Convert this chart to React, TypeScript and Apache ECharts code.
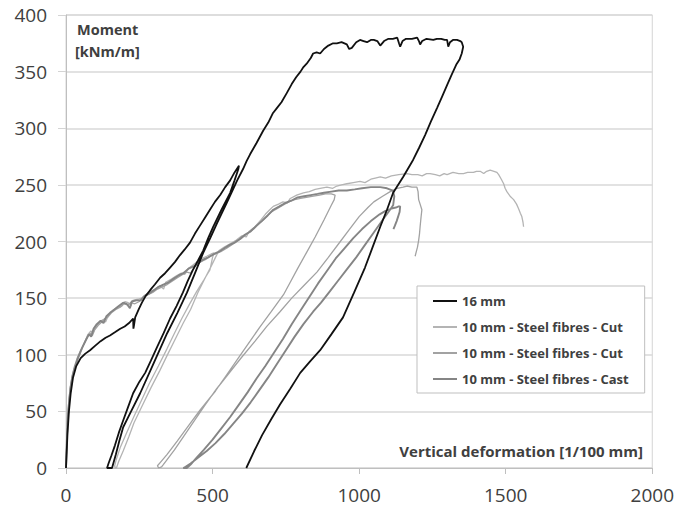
import React, { useEffect, useRef } from "react";
import * as echarts from "echarts";

// ---------- Data ----------
const seriesNames = [
  "16 mm",
  "10 mm - Steel fibres - Cut",
  "10 mm - Steel fibres - Cut ",
  "10 mm - Steel fibres - Cast",
];

const xTicks = [0, 500, 1000, 1500, 2000];
const yTicks = [0, 50, 100, 150, 200, 250, 300, 350, 400];

// 16 mm
const bEnvelope1 = [
  [0, 0], [5, 30], [10, 50], [16, 66], [24, 80], [35, 90], [50, 97], [66, 101], [82, 104],
  [100, 108], [118, 112], [135, 115], [150, 117], [168, 120], [185, 123], [200, 125], [215, 128],
  [229, 132], [230, 123], [232, 126], [236, 133], [248, 140], [259, 146], [272, 152], [287, 157],
  [303, 162], [321, 168], [338, 172], [355, 177], [372, 182], [389, 188], [405, 193], [423, 199],
  [440, 207], [457, 214], [474, 221], [491, 228], [508, 235], [526, 241], [543, 248], [560, 254],
  [575, 261], [590, 267],
];
const bUnload1 = [
  [588, 264], [575, 254], [560, 243], [530, 228], [502, 213], [485, 203], [468, 192], [450, 183],
  [433, 175], [415, 165], [399, 155], [377, 143], [355, 132], [333, 119], [311, 107], [290, 95],
  [270, 84], [250, 76], [229, 66], [212, 54], [195, 42], [180, 31], [167, 20], [155, 11],
  [145, 4], [140, 0],
];
const bReload1 = [
  [157, 0], [170, 12], [182, 24], [195, 36], [222, 50], [253, 66], [300, 93], [345, 119],
  [380, 137], [413, 155], [440, 172], [468, 190], [492, 203], [515, 216], [550, 235], [584, 254],
  [604, 264], [616, 271], [628, 277],
];
const bEnvelope2 = [
  [650, 287], [673, 298], [690, 305], [705, 313], [720, 318], [735, 323], [753, 331], [770, 339],
  [785, 345], [800, 350], [810, 354], [821, 357], [835, 362], [843, 366], [855, 367], [867, 366],
  [880, 370], [895, 373], [911, 375], [924, 375], [940, 376], [958, 374], [966, 370], [975, 371],
  [990, 376], [1003, 378], [1015, 377], [1027, 376], [1040, 378], [1050, 378], [1062, 377],
  [1072, 373], [1085, 377], [1100, 379], [1115, 379], [1130, 380], [1136, 375], [1140, 372],
  [1148, 377], [1160, 379], [1180, 379], [1198, 380], [1204, 377], [1208, 374], [1215, 377],
  [1230, 379], [1253, 378], [1265, 379], [1280, 379], [1292, 378], [1300, 378], [1304, 372],
  [1310, 376], [1320, 378], [1334, 378], [1345, 377], [1350, 376], [1355, 372],
];
const bUnload2 = [
  [1350, 366], [1343, 361], [1331, 356], [1315, 347], [1300, 338], [1283, 328], [1266, 318],
  [1245, 306], [1225, 294], [1205, 283], [1184, 272], [1150, 257], [1116, 243], [1095, 228],
  [1072, 213], [1046, 195], [1020, 177], [983, 155], [945, 133], [905, 118], [867, 104],
  [832, 94], [799, 84], [765, 70], [730, 56], [700, 43], [669, 29], [642, 15], [615, 0],
];

// 10 mm - Steel fibres - Cut (1)
const g1Envelope1 = [
  [0, 0], [3, 22], [6, 42], [10, 58], [15, 70], [22, 80], [30, 88], [40, 96], [52, 104], [65, 112],
  [75, 118], [85, 121], [92, 119], [100, 124], [112, 128], [125, 131], [135, 129], [145, 135],
  [160, 139], [175, 142], [190, 143], [201, 147], [212, 146], [222, 143], [228, 148], [245, 149],
  [258, 150], [272, 153], [288, 156], [304, 158], [320, 161], [333, 158], [340, 164], [361, 167],
  [378, 170], [392, 172], [405, 171], [416, 176], [432, 179], [446, 182], [463, 185], [480, 187],
  [495, 189], [505, 190],
];
const g1Unload = [
  [500, 186], [491, 175], [470, 166], [446, 156], [420, 144], [395, 132], [370, 119], [344, 105],
  [315, 90], [285, 75], [258, 60], [229, 44], [205, 30], [185, 18], [172, 8], [166, 2], [168, 0],
];
const g1Reload = [
  [172, 0], [180, 6], [195, 15], [215, 28], [232, 40], [260, 55], [290, 71], [320, 86], [348, 101],
  [375, 115], [400, 128], [425, 140], [450, 155], [475, 168], [495, 178], [510, 186], [522, 192],
];
const g1Envelope2 = [
  [540, 195], [560, 198], [580, 201], [600, 205], [615, 204], [625, 209], [645, 213], [665, 219],
  [680, 224], [695, 228], [707, 231], [725, 233], [740, 235], [755, 234], [765, 238], [787, 241],
  [810, 243], [830, 244], [850, 246], [867, 247], [890, 248], [910, 247], [924, 249], [940, 250],
  [958, 251], [980, 252], [1003, 253], [1020, 252], [1040, 255], [1055, 256], [1072, 257],
  [1090, 256], [1110, 258], [1135, 259], [1163, 260], [1180, 259], [1200, 259], [1215, 258],
  [1230, 260], [1242, 260], [1260, 259], [1275, 258], [1290, 260], [1300, 259], [1320, 261],
  [1340, 260], [1356, 260], [1370, 261], [1390, 261], [1400, 262], [1413, 262], [1425, 260],
  [1435, 262], [1447, 263], [1460, 262], [1470, 261], [1476, 259], [1485, 255], [1493, 251],
  [1498, 247], [1504, 244], [1515, 240], [1527, 237], [1537, 233], [1544, 229], [1550, 225],
  [1555, 222], [1559, 217], [1561, 213],
];

// 10 mm - Steel fibres - Cut (2)
const g2Envelope = [
  [0, 0], [2, 20], [5, 40], [9, 57], [14, 70], [20, 80], [28, 89], [38, 97], [50, 104], [62, 110],
  [72, 115], [82, 119], [90, 117], [98, 122], [110, 126], [122, 129], [132, 132], [142, 133],
  [155, 137], [170, 140], [185, 142], [198, 145], [210, 144], [220, 146], [235, 145], [250, 147],
  [265, 151], [280, 153], [296, 155], [312, 158], [328, 160], [345, 162], [362, 165], [380, 168],
  [398, 171], [412, 173], [425, 172], [440, 178], [458, 182], [475, 184], [492, 187], [510, 189],
  [528, 191], [548, 194], [565, 197], [582, 200], [600, 203], [620, 207], [640, 211], [660, 216],
  [680, 221], [700, 226], [720, 229], [740, 232], [760, 235], [780, 237], [800, 238], [820, 239],
  [844, 240], [865, 241], [885, 242], [905, 242], [918, 241],
];
const g2Unload = [
  [915, 237], [905, 232], [880, 219], [850, 204], [820, 190], [790, 176], [765, 164], [742, 153],
  [700, 138], [660, 124], [628, 112], [590, 98], [550, 83], [510, 68], [457, 51], [420, 38],
  [380, 24], [345, 12], [322, 5], [312, 2], [316, 0], [326, 1],
];
const g2Reload = [
  [332, 3], [370, 16], [420, 35], [470, 54], [514, 70], [560, 85], [600, 98], [645, 112],
  [685, 125], [730, 138], [770, 150], [815, 162], [856, 173], [895, 186], [930, 198], [965, 210],
  [1000, 222], [1030, 230], [1050, 235], [1080, 240], [1106, 244], [1130, 247], [1150, 248],
  [1163, 249], [1180, 248], [1197, 248],
];
const g2Drop = [
  [1201, 244], [1203, 237], [1208, 233], [1214, 228], [1211, 221], [1208, 213], [1206, 207],
  [1203, 201], [1199, 195], [1195, 191], [1191, 187],
];

// 10 mm - Steel fibres - Cast
const cEnvelope = [
  [0, 0], [3, 24], [6, 44], [11, 60], [16, 72], [23, 82], [32, 90], [42, 98], [55, 106], [68, 113],
  [78, 118], [86, 116], [94, 123], [105, 127], [118, 130], [128, 128], [138, 134], [150, 137],
  [165, 140], [180, 143], [195, 146], [207, 145], [218, 141], [224, 147], [240, 148], [255, 148],
  [268, 152], [283, 154], [300, 157], [316, 160], [332, 162], [350, 164], [366, 167], [384, 170],
  [400, 172], [418, 176], [435, 178], [452, 181], [468, 184], [485, 186], [505, 189], [522, 191],
  [540, 194], [558, 197], [575, 199], [592, 202], [610, 206], [630, 209], [650, 214], [668, 218],
  [688, 223], [707, 228], [728, 231], [748, 234], [768, 236], [790, 239], [812, 240], [835, 241],
  [858, 242], [880, 243], [905, 244], [930, 245], [958, 245], [985, 246], [1010, 247], [1040, 248],
  [1072, 248], [1095, 247], [1115, 245], [1120, 240],
];
const cUnload = [
  [1116, 232], [1100, 226], [1080, 219], [1050, 208], [1020, 197], [990, 186], [960, 176],
  [930, 166], [900, 156], [870, 146], [843, 138], [810, 127], [780, 116], [750, 104], [720, 92],
  [690, 80], [660, 69], [630, 58], [600, 48], [570, 39], [540, 30], [510, 22], [480, 15], [450, 9],
  [425, 4], [408, 1], [400, 0],
];
const cReload = [
  [412, 0], [425, 3], [445, 9], [470, 16], [500, 25], [530, 35], [560, 45], [590, 56], [620, 67],
  [650, 79], [680, 90], [710, 102], [740, 114], [770, 127], [800, 139], [830, 151], [860, 163],
  [890, 174], [920, 185], [950, 194], [980, 203], [1010, 211], [1040, 218], [1070, 224],
  [1090, 227], [1110, 229], [1125, 230], [1135, 231], [1140, 231], [1138, 226], [1133, 222],
  [1128, 218], [1122, 214], [1117, 211],
];

const data16 = [...bEnvelope1, ...bUnload1, ...bReload1, ...bEnvelope2, ...bUnload2];
const dataCut1 = [...g1Envelope1, ...g1Unload, ...g1Reload, ...g1Envelope2];
const dataCut2 = [...g2Envelope, ...g2Unload, ...g2Reload, ...g2Drop];
const dataCast = [...cEnvelope, ...cUnload, ...cReload];

const seriesData = [data16, dataCut1, dataCut2, dataCast];
const seriesColors = ["#111111", "#b4b4b4", "#a2a2a2", "#858585"];
const seriesWidths = [1.8, 1.3, 1.3, 1.9];

const FONT = "'Open Sans', 'Liberation Sans', sans-serif";

export default function App() {
  const ref = useRef<HTMLDivElement>(null);

  useEffect(() => {
    if (!ref.current) return;
    const chart = echarts.init(ref.current, undefined, { renderer: "svg" });
    const option: any = {
      animation: false,
      backgroundColor: "#ffffff",
      grid: {
        left: 66,
        right: 24,
        top: 15,
        bottom: 45,
        show: true,
        borderColor: "#d4d4d4",
        borderWidth: 1,
        backgroundColor: "transparent",
      },
      xAxis: {
        type: "value",
        min: xTicks[0],
        max: xTicks[xTicks.length - 1],
        interval: 500,
        axisLine: { show: true, lineStyle: { color: "#bfbfbf", width: 1 } },
        axisTick: { show: true, length: 6, lineStyle: { color: "#bfbfbf" } },
        axisLabel: {
          fontSize: 19,
          color: "#404040",
          margin: 17,
          fontFamily: FONT,
          formatter: (v: number) => String(v),
        },
        splitLine: { show: false },
      },
      yAxis: {
        type: "value",
        min: yTicks[0],
        max: yTicks[yTicks.length - 1],
        interval: 50,
        axisLine: { show: true, lineStyle: { color: "#bfbfbf", width: 1 } },
        axisTick: { show: true, length: 8, lineStyle: { color: "#d4d4d4" } },
        axisLabel: {
          fontSize: 19,
          color: "#404040",
          margin: 19,
          fontFamily: FONT,
          formatter: (v: number) => String(v),
        },
        splitLine: { show: true, lineStyle: { color: "#d9d9d9", width: 1.5 } },
      },
      legend: {
        orient: "vertical",
        left: 417,
        top: 286,
        padding: [7, 16, 6, 16],
        itemGap: 10,
        itemWidth: 24,
        itemHeight: 2,
        icon: "rect",
        backgroundColor: "#ffffff",
        borderColor: "#bfbfbf",
        borderWidth: 1,
        borderRadius: 0,
        data: seriesNames,
        formatter: (n: string) => n.trim(),
        textStyle: {
          fontSize: 13,
          lineHeight: 16,
          fontWeight: "bold",
          color: "#404040",
          fontFamily: FONT,
        },
      },
      graphic: [
        {
          type: "text",
          left: 77,
          top: 22,
          style: { text: "Moment", fill: "#404040", font: `bold 14.5px ${FONT}` },
        },
        {
          type: "text",
          left: 75,
          top: 44,
          style: { text: "[kNm/m]", fill: "#404040", font: `bold 14.5px ${FONT}` },
        },
        {
          type: "text",
          right: 34,
          top: 443,
          style: {
            text: "Vertical deformation [1/100 mm]",
            fill: "#404040",
            font: `bold 15px ${FONT}`,
          },
        },
      ],
      series: seriesNames.map((name, i) => ({
        name,
        type: "line",
        data: seriesData[i],
        showSymbol: false,
        symbol: "none",
        smooth: false,
        z: i === 0 ? 4 : 3,
        color: seriesColors[i],
        lineStyle: { color: seriesColors[i], width: seriesWidths[i] },
      })),
    };
    chart.setOption(option);
    return () => chart.dispose();
  }, []);

  return (
    <div
      ref={ref}
      style={{ position: "fixed", left: 0, top: 0, width: 677, height: 513, background: "#fff" }}
    />
  );
}
